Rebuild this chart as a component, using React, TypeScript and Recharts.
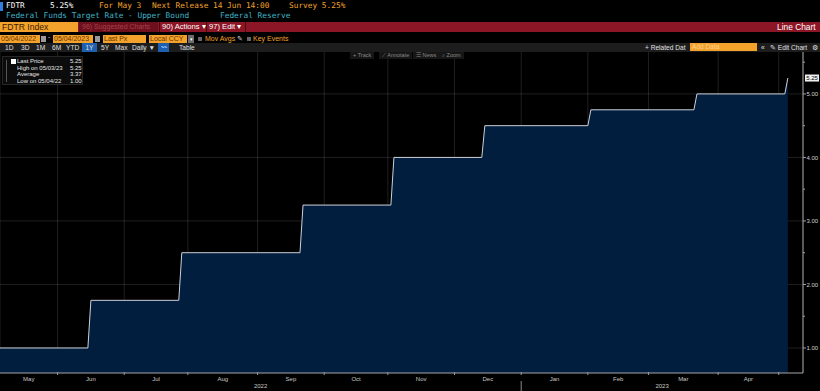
import React from 'react';
import { ComposedChart, Area, XAxis, YAxis, CartesianGrid, ReferenceDot } from 'recharts';

// FDTR daily observations (value changes on announcement day)
const startDate = '2022-05-04';
const obsDates = [
  '2022-05-04', '2022-06-14', '2022-06-15', '2022-07-26', '2022-07-27',
  '2022-09-20', '2022-09-21', '2022-11-01', '2022-11-02', '2022-12-13',
  '2022-12-14', '2023-01-31', '2023-02-01', '2023-03-21', '2023-03-22',
  '2023-05-02', '2023-05-03',
];
const obsValues = [
  1.0, 1.0, 1.75, 1.75, 2.5,
  2.5, 3.25, 3.25, 4.0, 4.0,
  4.5, 4.5, 4.75, 4.75, 5.0,
  5.0, 5.25,
];

const monthEnds = [
  '2022-05-31', '2022-06-30', '2022-07-29', '2022-08-31', '2022-09-30', '2022-10-31',
  '2022-11-30', '2022-12-30', '2023-01-31', '2023-02-28', '2023-03-31', '2023-04-28',
];
const monthLabels = ['May', 'Jun', 'Jul', 'Aug', 'Sep', 'Oct', 'Nov', 'Dec', 'Jan', 'Feb', 'Mar', 'Apr'];
const yearLabels = ['2022', '2023'];
const yearBreak = '2022-12-30';
const rateTicks = [1, 1.5, 2, 2.5, 3, 3.5, 4, 4.5, 5, 5.5];
const gridRates = [1, 2, 3, 4, 5];
const lastPrice = 5.25;
const legendRows = [
  ['Last Price', '5.25'],
  ['High on 05/03/23', '5.25'],
  ['Average', '3.37'],
  ['Low on 05/04/22', '1.00'],
];

const DAY = 86400000;
// bloomberg daily charts skip weekends, so x = weekday count from start
function tradingDay(iso: string) {
  const t0 = Date.parse(startDate + 'T00:00:00Z');
  const t1 = Date.parse(iso + 'T00:00:00Z');
  let n = 0;
  for (let t = t0 + DAY; t <= t1; t += DAY) {
    const wd = new Date(t).getUTCDay();
    if (wd !== 0 && wd !== 6) n++;
  }
  return n;
}

const X_MAX = 265;
const data = obsDates.map((d, i) => ({ x: tradingDay(d), v: obsValues[i] }));
const bounds = monthEnds.map(tradingDay);
const breakIdx = tradingDay(yearBreak);
const edges = [0, ...bounds];
const monthMids = monthLabels.map((_, i) => (edges[i] + edges[i + 1]) / 2);
const yearMids = [breakIdx / 2, (breakIdx + X_MAX) / 2];

const AMBER = '#f3a22b';
const mono = '"DejaVu Sans Mono", monospace';
const sans = '"Liberation Sans", Arial, sans-serif';

const RateTick = (props: any) => {
  const { x, y, payload } = props;
  const major = Number.isInteger(payload.value);
  return (
    <g>
      <line x1={x} y1={y} x2={x + (major ? 3 : 2)} y2={y} stroke="#a0a0a0" />
      {major && (
        <text x={x + 3.5} y={y + 2.2} fontSize={6} fill="#d0d0d0" fontFamily={sans}>
          {payload.value.toFixed(2)}
        </text>
      )}
    </g>
  );
};

const BoundTick = (props: any) => {
  const { x, y, payload } = props;
  return (
    <g>
      <line x1={x} y1={y - 1} x2={x} y2={y + 2} stroke="#9a9a9a" />
      {payload.value === breakIdx && <line x1={x} y1={y + 8} x2={x} y2={y + 18} stroke="#8a8a8a" />}
    </g>
  );
};

const TextTick = (labels: string[], dy: number) => (props: any) => {
  const { x, y, index } = props;
  return (
    <text x={x} y={y + dy} textAnchor="middle" fontSize={6} fill="#c8c8c8" fontFamily={sans}>
      {labels[index]}
    </text>
  );
};
const MonthLabelTick = TextTick(monthLabels, 6.5);
const YearLabelTick = TextTick(yearLabels, 6);

const LastLabel = (props: any) => {
  const { cx, cy } = props;
  return (
    <g>
      <rect x={cx + 2} y={cy - 3.5} width={14} height={7} fill="#f0f0f0" />
      <text x={cx + 9} y={cy + 2.2} textAnchor="middle" fontSize={6} fill="#000" fontFamily={sans}>
        {lastPrice.toFixed(2)}
      </text>
    </g>
  );
};

const abs = (left: number, top: number, extra: React.CSSProperties = {}): React.CSSProperties => ({
  position: 'absolute',
  left,
  top,
  whiteSpace: 'nowrap',
  ...extra,
});

const Box = ({ left, width, text, top = 35 }: { left: number; width: number; text: string; top?: number }) => (
  <div style={abs(left, top, { width, height: 8, background: AMBER, color: '#6a3300', fontSize: 7, lineHeight: '8px', paddingLeft: 1, boxSizing: 'border-box', overflow: 'hidden' })}>
    {text}
  </div>
);

export default function App() {
  return (
    <div style={{ position: 'fixed', left: 0, top: 0, width: 820, height: 391, background: '#000', overflow: 'hidden', fontFamily: sans }}>
      <ComposedChart width={820} height={391} data={data} margin={{ top: 52, right: 0, bottom: 0, left: 0 }}>
        <XAxis
          xAxisId="b"
          dataKey="x"
          type="number"
          domain={[0, X_MAX]}
          allowDataOverflow
          ticks={bounds}
          interval={0}
          height={1}
          tickSize={0}
          tickMargin={0}
          tick={<BoundTick />}
          axisLine={{ stroke: '#a6a6a6' }}
          tickLine={false}
        />
        <XAxis
          xAxisId="m"
          dataKey="x"
          type="number"
          domain={[0, X_MAX]}
          allowDataOverflow
          ticks={monthMids}
          interval={0}
          height={8}
          tickSize={0}
          tickMargin={0}
          tick={<MonthLabelTick />}
          axisLine={false}
          tickLine={false}
        />
        <XAxis
          xAxisId="y"
          dataKey="x"
          type="number"
          domain={[0, X_MAX]}
          allowDataOverflow
          ticks={yearMids}
          interval={0}
          height={9}
          tickSize={0}
          tickMargin={0}
          tick={<YearLabelTick />}
          axisLine={false}
          tickLine={false}
        />
        <YAxis
          orientation="right"
          type="number"
          domain={[0.606, 5.66]}
          allowDataOverflow
          ticks={rateTicks}
          interval={0}
          width={17}
          tickSize={0}
          tickMargin={0}
          tick={<RateTick />}
          axisLine={{ stroke: '#a6a6a6' }}
          tickLine={false}
        />
        <Area
          xAxisId="b"
          type="linear"
          dataKey="v"
          stroke="#cdd1d8"
          strokeWidth={1}
          fill="#021e3f"
          fillOpacity={1}
          isAnimationActive={false}
          dot={false}
          activeDot={false}
        />
        <CartesianGrid xAxisId="b" stroke="rgba(255,255,255,0.12)" horizontalValues={gridRates} />
        <ReferenceDot xAxisId="b" x={X_MAX} y={lastPrice} r={0} ifOverflow="visible" shape={<LastLabel />} />
      </ComposedChart>

      {/* row 1 */}
      <div style={abs(0, 2, { width: 3, height: 9, background: '#2f7fe0' })} />
      <div style={abs(0, 0, { fontFamily: mono, fontSize: 7.8, lineHeight: '11px', width: 820, height: 11 })}>
        <span style={abs(6, 0, { color: '#fff' })}>FDTR</span>
        <span style={abs(50, 0, { color: '#fff' })}>5.25%</span>
        <span style={abs(99, 0, { color: AMBER })}>For May 3</span>
        <span style={abs(152, 0, { color: AMBER })}>Next Release 14 Jun 14:00</span>
        <span style={abs(289, 0, { color: AMBER })}>Survey 5.25%</span>
      </div>
      {/* row 2 */}
      <div style={abs(0, 11, { fontFamily: mono, fontSize: 7.8, lineHeight: '10px', width: 820, height: 10, color: '#3fb3c6' })}>
        <span style={abs(6, 0)}>Federal Funds Target Rate - Upper Bound</span>
        <span style={abs(220, 0)}>Federal Reserve</span>
      </div>
      {/* red bar */}
      <div style={abs(0, 22, { width: 820, height: 10, background: '#8c1526', fontSize: 7.6, lineHeight: '10px', color: '#fff' })}>
        <div style={abs(0, 0, { width: 78, height: 10, background: AMBER, color: '#3c2000', paddingLeft: 2, boxSizing: 'border-box', fontSize: 8.6 })}>FDTR Index</div>
        <div style={abs(79, 0, { width: 79, height: 10, background: '#6e0f1d', color: '#a3414c', paddingLeft: 3, boxSizing: 'border-box', overflow: 'hidden', fontSize: 7 })}>96) Suggested Charts</div>
        <div style={abs(159, 0, { width: 1, height: 10, background: '#4a0a12' })} />
        <span style={abs(162, 0)}>90) Actions ▾</span>
        <div style={abs(206, 0, { width: 1, height: 10, background: '#4a0a12' })} />
        <span style={abs(209, 0)}>97) Edit ▾</span>
        <div style={abs(245, 0, { width: 1, height: 10, background: '#4a0a12' })} />
        <span style={abs(777, 0, { fontSize: 8.4 })}>Line Chart</span>
      </div>
      {/* date row */}
      <Box left={0} width={40} text="05/04/2022" />
      <div style={abs(41, 36, { width: 5, height: 6, background: '#9a9a9a' })} />
      <span style={abs(48, 33, { color: '#ccc', fontSize: 7 })}>-</span>
      <Box left={53} width={40} text="05/04/2023" />
      <div style={abs(95, 36, { width: 5, height: 6, background: '#9a9a9a' })} />
      <Box left={103} width={43} text="Last Px" />
      <Box left={149} width={38} text="Local CCY" />
      <div style={abs(188, 35, { width: 6, height: 8, background: '#6c6c6c', color: '#fff', fontSize: 5, lineHeight: '8px', textAlign: 'center' })}>▾</div>
      <div style={abs(198, 37, { width: 4, height: 4, background: '#666' })} />
      <span style={abs(205, 34, { color: AMBER, fontSize: 7, lineHeight: '10px' })}>Mov Avgs</span>
      <span style={abs(237, 34, { color: '#ddd', fontSize: 6.5, lineHeight: '10px' })}>✎</span>
      <div style={abs(247, 37, { width: 4, height: 4, background: '#666' })} />
      <span style={abs(253, 34, { color: AMBER, fontSize: 7, lineHeight: '10px' })}>Key Events</span>
      {/* range buttons */}
      <div style={abs(0, 43, { width: 820, height: 9, background: '#1d1d1d', color: '#e0e0e0', fontSize: 6.6, lineHeight: '9px' })}>
        <span style={abs(5, 0)}>1D</span>
        <span style={abs(21, 0)}>3D</span>
        <span style={abs(36, 0)}>1M</span>
        <span style={abs(52, 0)}>6M</span>
        <span style={abs(66, 0)}>YTD</span>
        <div style={abs(82, 0, { width: 15, height: 9, background: '#1f5fb0', textAlign: 'center' })}>1Y</div>
        <span style={abs(101, 0)}>5Y</span>
        <span style={abs(115, 0)}>Max</span>
        <span style={abs(132, 0)}>Daily ▼</span>
        <div style={abs(158, 0, { width: 11, height: 9, background: '#1f5fb0', color: '#9cc8ff', textAlign: 'center', fontSize: 6 })}>〰</div>
        <span style={abs(179, 0)}>Table</span>
        <span style={abs(645, 0)}>+ Related Dat</span>
        <div style={abs(690, 0, { width: 67, height: 8, background: AMBER, color: '#ffd08a', paddingLeft: 2, boxSizing: 'border-box', lineHeight: '8px' })}>Add Data</div>
        <span style={abs(761, 0)}>«</span>
        <span style={abs(770, 0)}>✎ Edit Chart</span>
        <span style={abs(812, 0)}>⚙</span>
      </div>
      {/* chart tools */}
      <div style={abs(350, 52, { fontSize: 5.5, lineHeight: '7px', color: '#8a8a8a' })}>
        <span style={abs(0, 0, { background: '#161616', padding: '0 3px' })}>+ Track</span>
        <span style={abs(29, 0, { background: '#161616', padding: '0 3px' })}>⟋ Annotate</span>
        <span style={abs(63, 0, { background: '#161616', padding: '0 3px' })}>☰ News</span>
        <span style={abs(89, 0, { background: '#161616', padding: '0 3px' })}>⌕ Zoom</span>
      </div>
      {/* legend */}
      <div style={abs(2, 56, { width: 81, height: 29, background: '#0c0c0c', border: '1px solid #262626', boxSizing: 'border-box', fontSize: 6, color: '#e6e6e6' })}>
        <div style={abs(3, 3, { width: 1, height: 22, background: '#555' })} />
        <div style={abs(8, 2, { width: 5, height: 5, background: '#fff' })} />
        {legendRows.map((r, i) => (
          <React.Fragment key={r[0]}>
            <span style={abs(14, 1 + i * 6.6, { lineHeight: '7px' })}>{r[0]}</span>
            <span style={abs(67, 1 + i * 6.6, { lineHeight: '7px' })}>{r[1]}</span>
          </React.Fragment>
        ))}
      </div>
    </div>
  );
}
